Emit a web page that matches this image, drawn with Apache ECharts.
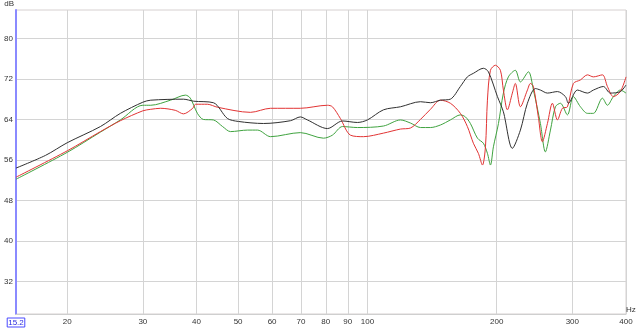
<!DOCTYPE html>
<html><head><meta charset="utf-8">
<script src="https://cdn.jsdelivr.net/npm/echarts@6/dist/echarts.min.js"></script>
<style>html,body{margin:0;padding:0;background:#fff}#c{width:640px;height:330px}</style>
</head><body><div id="c"></div>
<script>
// Frequencies (Hz) and levels (dB)
const blackFreq = [15.2,17.8,20,23.9,26.6,30,31.3,37.3,39.4,43.8,47.2,50.1,57.3,66.2,69.8,72.5,80.7,87.5,94.8,100,109,119.4,132.9,140.2,147.9,156,164.6,170.9,176.5,186.2,191.3,200.8,207.3,217.5,227.1,235.8,246.1,252.8,262.5,277,289.1,293.7,308.3,325.3,335.9,354.3,367.8,388.1,400];
const blackDb   = [54.4,56.9,59.4,62.6,65.2,67.4,67.8,68.0,67.6,67.3,64.2,63.6,63.2,63.75,64.5,63.9,62.2,63.7,63.4,63.9,65.9,66.5,67.5,67.3,67.8,68.0,70.5,72.4,73.1,74.1,73.4,68.5,65.5,58.3,61.9,67.2,70.1,69.8,69.2,69.5,68.5,67.2,69.8,69.2,69.8,70.5,69.2,69.5,70.8];

const redFreq = [15.2,20,23.9,26.6,30,31.3,33.0,35.7,37.3,39.2,39.8,42.4,44.8,53.4,59.5,69.8,80.7,82.9,86.5,91.3,97.9,109,119.4,125.9,132.9,140.2,147.9,156,164.6,170.9,176.5,181.3,185.3,188.3,190.3,193.4,198.6,204,207.3,211.8,217.5,221,227.1,235.8,239.6,243.5,250,255.5,262.5,269.6,277,284.4,292.2,301.7,313.3,325.3,335.9,352.5,362.1,373.8,388.1,400];
const redDb   = [52.6,57.8,61.6,63.75,65.7,66.0,66.2,65.8,65.1,66.2,67.0,67.0,66.4,65.4,66.2,66.2,66.8,66.5,64.2,60.9,60.6,61.3,62.1,62.3,64.0,66.0,67.8,67.2,65.2,62.6,59.3,57.3,55.0,58.6,67.8,73.7,74.7,73.7,69.8,65.9,69.2,71.1,66.5,69.8,71.1,70.5,64.5,59.6,63.2,67.2,63.9,66.2,66.5,71.1,71.8,72.8,72.4,72.8,70.5,68.5,69.5,72.4];

const greenFreq = [15.2,20,23.9,26.6,30,31.3,34.8,37.7,38.7,40.2,41.5,43.8,46.0,48.0,52.6,55.5,59.5,69.8,79.0,82.9,87.5,94.8,109,119.4,125.9,132.9,140.2,147.9,156,164.6,169.1,173.7,180.4,186.2,190.3,193.4,196.5,201.9,207.3,212.9,221,227.1,237.1,243.5,252.8,259.6,266.8,274,281.4,292.2,301.7,313.3,325.3,335.9,352.5,362.1,373.8,388.1,400];
const greenDb   = [52.2,57.5,61.5,63.9,66.8,66.8,67.8,68.8,68.2,65.2,64.0,63.9,62.6,61.6,61.9,61.9,60.6,61.4,60.3,60.9,62.6,62.4,62.7,63.9,63.3,62.4,62.4,62.9,63.9,64.9,64.5,63.2,60.3,59.3,57.3,55.0,58.6,63.2,69.2,72.4,73.7,71.4,73.4,69.8,63.2,57.6,61.9,66.5,67.2,64.9,68.5,66.5,65.2,65.2,68.2,66.8,68.5,69.8,69.2];

const xTickLabels = [15.2,20,30,40,50,60,70,80,90,100,200,300,400];
const xGridFreqs  = [20,30,40,50,60,70,80,90,100,200,300,400];
const yTickLabels = [32,40,48,56,64,72,80];

const L = Math.log10;
const pairs = (f, d) => f.map((v, i) => [L(v), d[i]]);
const font = 'Liberation Sans, Arial, sans-serif';

const chart = echarts.init(document.getElementById('c'), null, {renderer: 'canvas'});
chart.setOption({
  animation: false,
  backgroundColor: '#ffffff',
  grid: {left: 16, top: 10, right: 14, bottom: 16, show: true, borderColor: '#d6d0d0', borderWidth: 1},
  xAxis: {
    type: 'value', min: L(15.2), max: L(400),
    name: 'Hz', nameLocation: 'end', nameGap: 2,
    nameTextStyle: {fontFamily: font, fontSize: 8, color: '#333', verticalAlign: 'bottom', align: 'left', padding: [0, 0, 0, -2]},
    axisLine: {show: true, lineStyle: {color: '#cfcfcf', width: 1}},
    axisTick: {show: false, customValues: xGridFreqs.map(L)},
    axisLabel: {
      customValues: xTickLabels.map(L), margin: 4,
      fontFamily: font, fontSize: 8, color: '#333',
      formatter: v => {
        const f = Math.pow(10, v);
        if (Math.abs(f - 15.2) < 0.01) return '{box|15.2}';
        return String(Math.round(f));
      },
      rich: {box: {color: '#2a2ae0', borderColor: '#4a4aff', borderWidth: 1, padding: [1, 1, 0, 1], fontFamily: font, fontSize: 8}}
    },
    splitLine: {show: true, lineStyle: {color: '#d4d4d4', width: 1}}
  },
  yAxis: {
    type: 'value', min: 25.6, max: 85.6,
    name: 'dB', nameLocation: 'end', nameGap: 2,
    nameTextStyle: {fontFamily: font, fontSize: 8, color: '#333', align: 'right', padding: [0, 2, 0, 0]},
    axisLine: {show: true, lineStyle: {color: '#8a8aff', width: 2}},
    axisTick: {show: false, customValues: yTickLabels},
    axisLabel: {customValues: yTickLabels, margin: 3, fontFamily: font, fontSize: 8, color: '#333'},
    splitLine: {show: true, lineStyle: {color: '#d4d4d4', width: 1}}
  },
  series: [
    {name: 'green', type: 'line', data: pairs(greenFreq, greenDb), showSymbol: false, smooth: 0.3, lineStyle: {color: '#3fa33f', width: 1}, z: 2},
    {name: 'red', type: 'line', data: pairs(redFreq, redDb), showSymbol: false, smooth: 0.3, lineStyle: {color: '#e23434', width: 1}, z: 3},
    {name: 'black', type: 'line', data: pairs(blackFreq, blackDb), showSymbol: false, smooth: 0.3, lineStyle: {color: '#303030', width: 1}, z: 4}
  ]
});
</script></body></html>
